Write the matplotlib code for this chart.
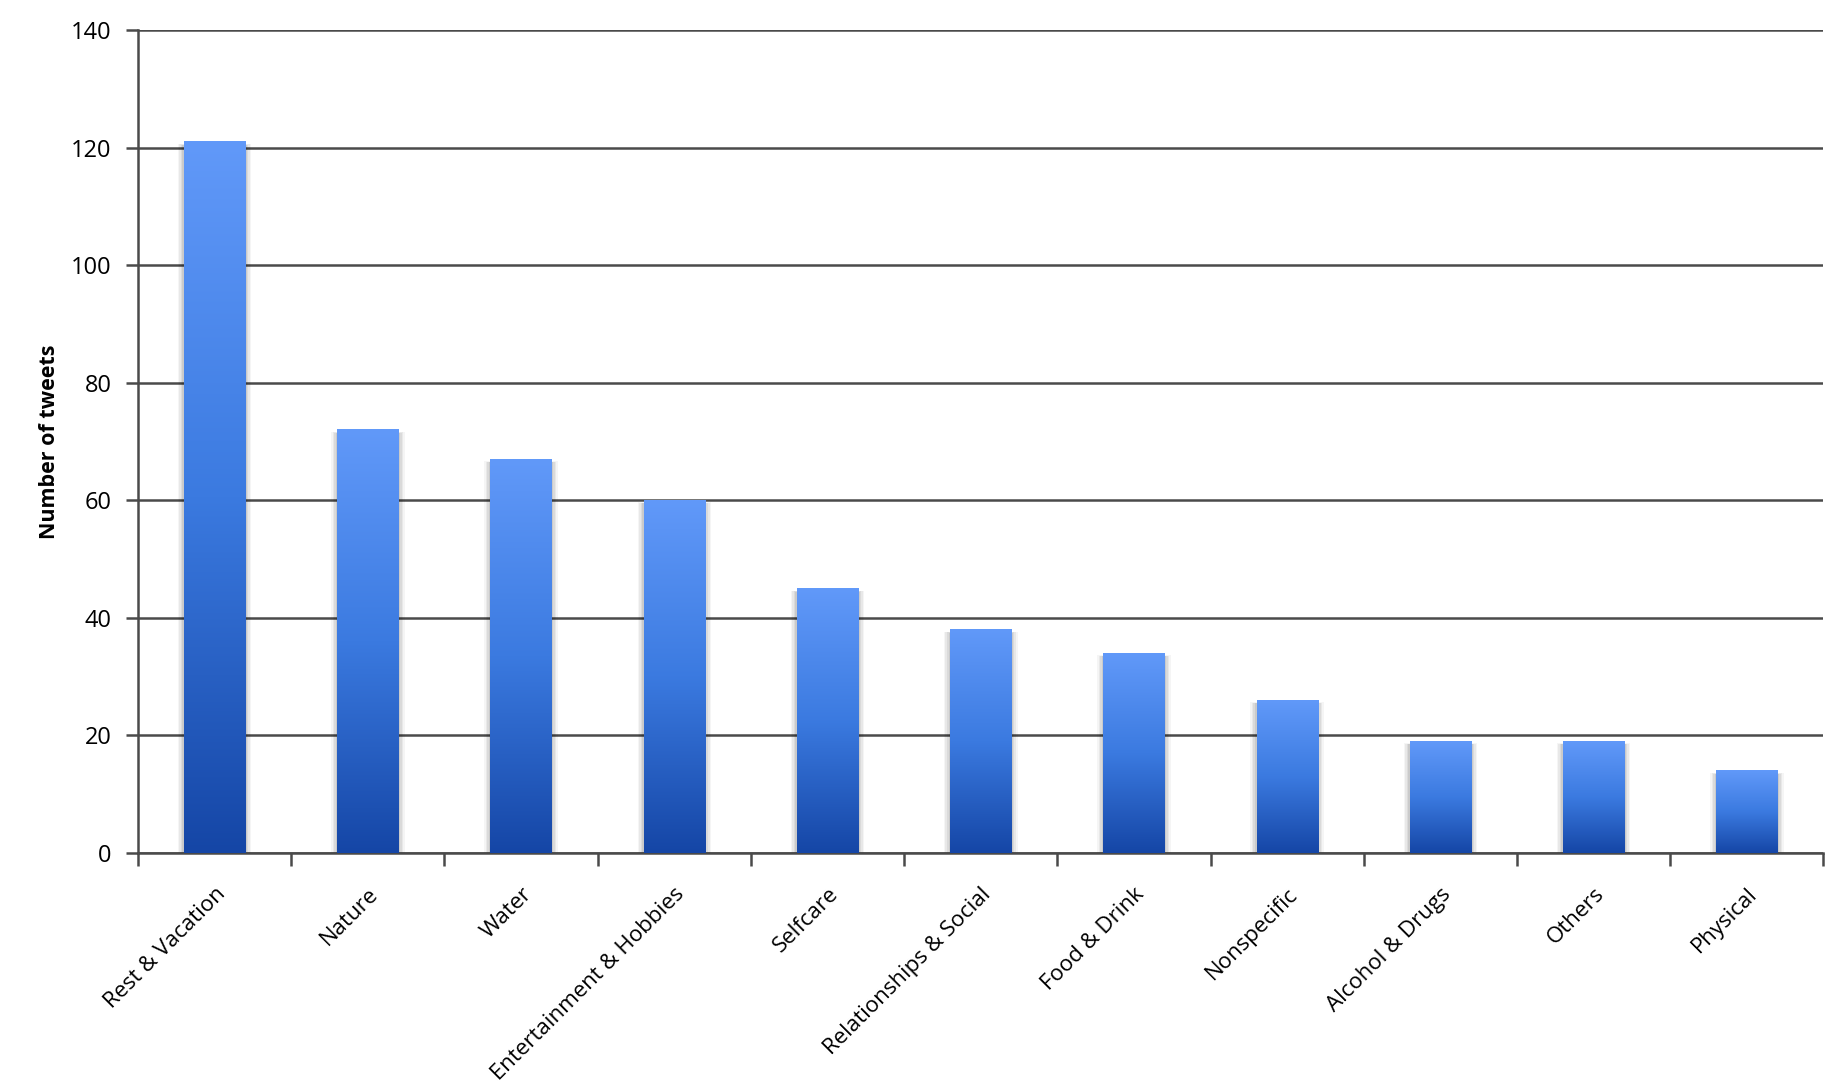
import numpy as np
import matplotlib
matplotlib.use("Agg")
import matplotlib.pyplot as plt
from matplotlib.colors import LinearSegmentedColormap
from matplotlib.patches import Rectangle

categories = ["Rest & Vacation", "Nature", "Water", "Entertainment & Hobbies", "Selfcare",
              "Relationships & Social", "Food & Drink", "Nonspecific", "Alcohol & Drugs",
              "Others", "Physical"]
values = [121, 72, 67, 60, 45, 38, 34, 26, 19, 19, 14]
y_ticks = [0, 20, 40, 60, 80, 100, 120, 140]
y_label = "Number of tweets"

plt.rcParams['font.family'] = ['Open Sans', 'DejaVu Sans']

fig = plt.figure(figsize=(18.48, 10.88), dpi=100)
ax = fig.add_axes([0.0747, 0.216, 0.912, 0.7564])

n = len(categories)
x = np.arange(n)
bw = 0.4
ax.set_xlim(-0.5, n - 0.5)
ax.set_ylim(0, 140)

cmap = LinearSegmentedColormap.from_list("bar", ["#1546a6", "#3b7ae0", "#6199f9"])
grad = np.linspace(0, 1, 256).reshape(-1, 1)

for xi, v in zip(x, values):
    # soft shadow
    for k, a in enumerate([0.07, 0.06, 0.05, 0.04]):
        d = 0.01 * (k + 1)
        ax.add_patch(Rectangle((xi - bw / 2 - d, 0), bw + 2 * d, v - 0.6 + d * 6,
                               facecolor="black", alpha=a, edgecolor="none", zorder=2))
    ax.imshow(grad, cmap=cmap, origin="lower", aspect="auto",
              extent=(xi - bw / 2, xi + bw / 2, 0, v), zorder=3)

ax.set_xlim(-0.5, n - 0.5)
ax.set_ylim(0, 140)

ax.set_yticks(y_ticks)
ax.set_yticklabels([str(t) for t in y_ticks], fontsize=17)
ax.yaxis.grid(True, color="#4a4a4a", linewidth=1.8, zorder=1)
ax.set_axisbelow(True)

ax.set_xticks(x)
ax.set_xticklabels(categories, rotation=45, ha="right", rotation_mode="anchor", fontsize=16)
ax.set_xticks(np.arange(-0.5, n, 1), minor=True)
ax.tick_params(axis="x", which="major", length=0, pad=22)
ax.tick_params(axis="x", which="minor", length=9, width=1.8, color="#4a4a4a")
ax.tick_params(axis="y", length=9, width=1.8, color="#4a4a4a", pad=10)

for s in ["top", "right"]:
    ax.spines[s].set_visible(False)
for s in ["left", "bottom"]:
    ax.spines[s].set_color("#4a4a4a")
    ax.spines[s].set_linewidth(1.8)

ax.set_ylabel(y_label, fontsize=15.5, fontweight="bold", labelpad=8)

fig.savefig("out.png", dpi=100, facecolor="white")
